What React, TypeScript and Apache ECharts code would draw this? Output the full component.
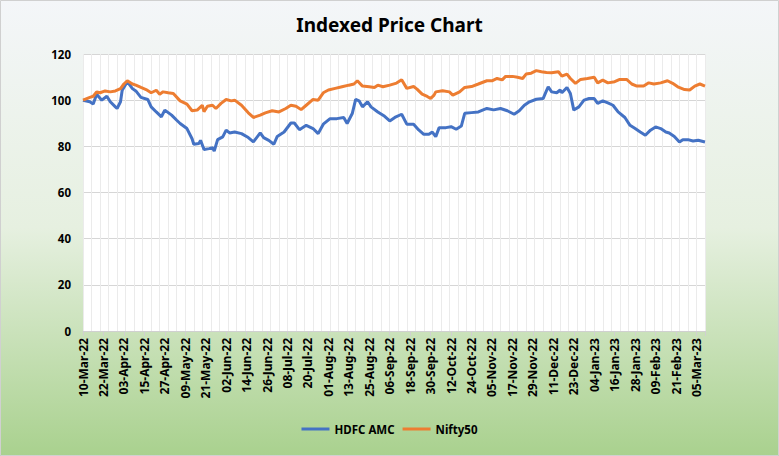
import React, { useEffect, useRef } from "react";
import * as echarts from "echarts";

// Day offsets from 10-Mar-22 and indexed values
const hdfcDays = [0,4,6,8,11,14,16,19,20,22,23,26,29,31,34,38,40,43,46,48,52,55,57,61,64,65,68,69,71,74,76,77,79,82,84,86,89,93,97,100,104,106,109,112,114,118,122,124,127,131,135,138,141,145,149,153,155,158,160,162,164,167,169,173,177,180,183,187,190,194,197,200,203,205,207,209,213,216,219,222,224,228,232,237,241,245,249,253,256,259,262,266,270,272,273,275,278,280,281,284,286,288,291,294,297,300,302,305,308,311,314,318,321,324,327,330,333,336,339,342,344,347,350,352,355,358,361,365];
const hdfcValues = [100,99.3,98.3,102.6,100,101.7,99.3,97.1,96.4,99.3,104.3,108,105,104,101.2,100.3,97.1,94.9,92.8,95.7,93.5,91.3,89.9,87.7,83.3,80.9,81.2,82.6,78.6,79,79.4,78,82.9,84.1,87,85.8,86.2,85.5,83.8,81.9,85.8,83.8,82.6,80.9,84.3,86.2,90.1,90.1,87.2,89.1,87.7,85.5,89.6,92,92,92.5,89.9,94.2,100.3,99.7,97.1,99.3,97.1,94.9,93,91,92.5,93.9,89.6,89.6,87.1,85.2,85.2,86.2,84.2,88.1,88.1,88.5,87.4,88.8,94.3,94.6,94.9,96.4,95.8,96.4,95.4,93.9,95.4,97.8,99.3,100.4,100.7,104.1,105.8,103.6,103.2,104.4,103.2,105.5,102.9,95.7,97.1,100,100.7,100.7,98.6,99.7,98.8,97.8,94.9,92.5,89.1,87.7,86.2,84.8,87,88.4,87.7,86.2,85.8,84.3,81.9,82.9,82.9,82.3,82.6,81.9];

const niftyDays = [0,4,6,8,10,13,16,19,22,24,26,29,31,34,37,40,43,45,47,50,53,57,61,64,67,70,71,73,76,78,81,84,87,89,93,97,100,104,107,111,115,119,122,125,128,131,135,138,141,144,148,152,156,159,161,164,168,171,173,176,180,184,187,190,194,196,199,202,204,206,207,211,215,217,221,224,228,232,237,240,243,246,248,252,255,258,260,263,266,269,272,275,279,281,284,286,289,292,296,300,302,305,308,312,315,319,322,325,329,332,335,339,343,346,349,353,356,359,362,365];
const niftyValues = [100,101.2,101.7,103.6,103.2,104,103.6,104,105,107,108.4,107,106.5,105.5,104.6,103.2,104.3,102.6,103.6,103.2,102.9,99.7,98.3,95.4,95.7,97.8,95,97.4,97.8,96.4,98.6,100.3,99.7,100,97.8,94.5,92.5,93.5,94.5,95.4,94.9,96.4,97.8,97.4,95.9,97.8,100.3,100,103.2,104.4,105.1,105.8,106.5,107,108.4,106.1,105.8,105.5,106.5,105.8,106.5,107.4,108.8,105.1,105.9,104.8,102.6,101.6,100.7,102.2,103.6,104.1,103.6,102.2,103.6,105.5,105.9,107,108.4,108.4,109.4,108.8,110.3,110.3,109.9,109.4,111.3,111.7,112.8,112.3,112,111.9,112.3,110.4,111.3,109.4,107.3,109,109.4,109.9,107.5,108.7,107.5,108,109,109,107,106.1,106.1,107.5,107,107.5,108.4,107.3,105.8,104.6,104.4,106.1,107,106.1];

const yTicks = [0, 20, 40, 60, 80, 100, 120];
const startDate = Date.UTC(2022, 2, 10);
const months = ["Jan","Feb","Mar","Apr","May","Jun","Jul","Aug","Sep","Oct","Nov","Dec"];

function dayLabel(d: number): string {
  const dt = new Date(startDate + d * 86400000);
  const dd = String(dt.getUTCDate()).padStart(2, "0");
  const yy = String(dt.getUTCFullYear() % 100).padStart(2, "0");
  return `${dd}-${months[dt.getUTCMonth()]}-${yy}`;
}

const FONT = "'Noto Sans', 'DejaVu Sans', sans-serif";

export default function App() {
  const ref = useRef<HTMLDivElement>(null);
  useEffect(() => {
    document.body.style.margin = "0";
    if (!ref.current) return;
    const chart = echarts.init(ref.current, undefined, { renderer: "svg" });
    const hdfc = hdfcDays.map((d, i) => [d, hdfcValues[i]]);
    const nifty = niftyDays.map((d, i) => [d, niftyValues[i]]);
    chart.setOption({
      animation: false,
      backgroundColor: {
        type: "linear", x: 0, y: 0, x2: 0, y2: 1,
        colorStops: [
          { offset: 0, color: "#f4f6f9" },
          { offset: 0.5, color: "#e6f0e0" },
          { offset: 1, color: "#a9d18e" },
        ],
      },
      title: {
        text: "Indexed Price Chart",
        left: "center",
        top: 10,
        textStyle: { fontFamily: FONT, fontSize: 19, fontWeight: "bold", color: "#000" },
      },
      graphic: [
        {
          type: "rect",
          shape: { x: 0.5, y: 0.5, width: 778, height: 455 },
          style: { fill: "none", stroke: "#d0d0d0", lineWidth: 1 },
          silent: true,
        },
      ],
      legend: {
        bottom: 16,
        left: "center",
        itemWidth: 28,
        itemHeight: 3,
        itemGap: 8,
        icon: "rect",
        textStyle: { fontFamily: FONT, fontSize: 11.5, fontWeight: "bold", color: "#000" },
        data: ["HDFC AMC", "Nifty50"],
      },
      grid: { left: 83, right: 74, top: 54, bottom: 125, backgroundColor: "#ffffff", show: true, borderWidth: 0 },
      xAxis: [
        {
          type: "value",
          min: 0,
          max: 365,
          interval: 12,
          axisLine: { show: true, lineStyle: { color: "#d0d0d0" } },
          axisTick: { show: true, length: 5, lineStyle: { color: "#d0d0d0" } },
          splitLine: { show: false },
          axisLabel: {
            rotate: 90,
            fontFamily: FONT,
            fontSize: 12,
            fontWeight: "bold",
            color: "#000",
            margin: 7,
            formatter: (v: number) => (v % 12 === 0 ? dayLabel(v) : ""),
          },
        },
        {
          type: "value",
          min: 0,
          max: 365,
          interval: 5,
          position: "bottom",
          axisLine: { show: false },
          axisTick: { show: false },
          axisLabel: { show: false },
          splitLine: { show: true, lineStyle: { color: "#ebebeb", width: 1 } },
        },
      ],
      yAxis: {
        type: "value",
        min: yTicks[0],
        max: yTicks[yTicks.length - 1],
        interval: 20,
        axisLine: { show: false },
        axisTick: { show: false },
        splitLine: { show: true, lineStyle: { color: "#d6d6d6", width: 1 } },
        axisLabel: { fontFamily: FONT, fontSize: 11.5, fontWeight: "bold", color: "#000", margin: 12 },
      },
      series: [
        {
          name: "HDFC AMC",
          type: "line",
          data: hdfc,
          showSymbol: false,
          symbol: "none",
          lineStyle: { color: "#4472c4", width: 3 },
          itemStyle: { color: "#4472c4" },
          z: 3,
        },
        {
          name: "Nifty50",
          type: "line",
          data: nifty,
          showSymbol: false,
          symbol: "none",
          lineStyle: { color: "#ed7d31", width: 3 },
          itemStyle: { color: "#ed7d31" },
          z: 3,
        },
      ],
    });
    return () => chart.dispose();
  }, []);
  return <div ref={ref} style={{ width: 779, height: 456 }} />;
}
